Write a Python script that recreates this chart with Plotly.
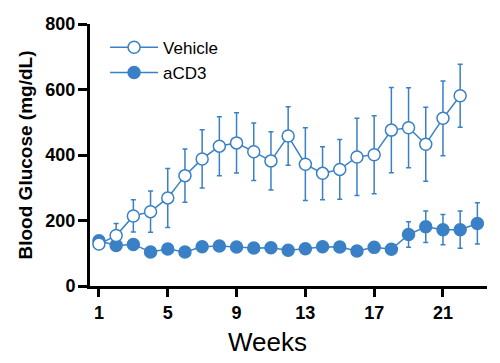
import plotly.graph_objects as go

weeks_vehicle = list(range(1, 23))
vehicle_mean = [128, 154, 214, 227, 269, 337, 388, 427, 437, 410, 382, 458, 372, 344, 356, 394, 401, 476, 483, 433, 512, 581]
vehicle_sem = [8, 37, 49, 63, 90, 81, 89, 90, 92, 88, 89, 89, 111, 81, 91, 118, 119, 130, 122, 113, 114, 96]

weeks_acd3 = list(range(1, 24))
acd3_mean = [138, 124, 127, 104, 113, 104, 120, 122, 119, 116, 117, 109, 114, 120, 119, 107, 118, 112, 157, 181, 172, 172, 191]
acd3_sem = [6, 6, 6, 6, 6, 6, 6, 6, 6, 6, 6, 6, 6, 6, 6, 6, 6, 6, 39, 48, 46, 57, 63]

x_ticks = [1, 5, 9, 13, 17, 21]
y_ticks = [0, 200, 400, 600, 800]

BLUE = "#3a80c6"
FONT = "Liberation Sans, Arial, sans-serif"

fig = go.Figure()
fig.add_trace(go.Scatter(
    x=weeks_acd3, y=acd3_mean, name="aCD3", mode="lines+markers",
    line=dict(color=BLUE, width=1.5),
    marker=dict(symbol="circle", size=12, color=BLUE, line=dict(color=BLUE, width=1.5)),
    error_y=dict(type="data", array=acd3_sem, color=BLUE, thickness=1.5, width=2.5),
    legendrank=2, cliponaxis=False,
))
fig.add_trace(go.Scatter(
    x=weeks_vehicle, y=vehicle_mean, name="Vehicle", mode="lines+markers",
    line=dict(color=BLUE, width=1.5),
    marker=dict(symbol="circle", size=12, color="white", line=dict(color=BLUE, width=1.5)),
    error_y=dict(type="data", array=vehicle_sem, color=BLUE, thickness=1.5, width=2.5),
    legendrank=1, cliponaxis=False,
))

fig.update_layout(
    width=492, height=355,
    margin=dict(l=82, r=13, t=16, b=77),
    paper_bgcolor="white", plot_bgcolor="white",
    font=dict(family=FONT, color="black"),
    showlegend=True,
    legend=dict(x=0.038, y=0.978, xanchor="left", yanchor="top",
                itemwidth=48,
                font=dict(size=17, family=FONT, color="black"),
                bgcolor="rgba(0,0,0,0)", tracegroupgap=0),
    xaxis=dict(
        range=[0.48, 23.56], tickvals=x_ticks, ticktext=[str(v) for v in x_ticks],
        showline=True, linecolor="black", linewidth=3,
        ticks="outside", ticklen=8, tickwidth=2.5, tickcolor="black",
        showgrid=False, zeroline=False, automargin=False,
        tickfont=dict(size=18, family=FONT, color="black", weight="bold"),
    ),
    yaxis=dict(
        range=[0, 800], tickvals=y_ticks, ticktext=[str(v) for v in y_ticks],
        showline=True, linecolor="black", linewidth=3,
        ticks="outside", ticklen=9, tickwidth=2.5, tickcolor="black",
        ticklabelstandoff=-1,
        showgrid=False, zeroline=False, automargin=False,
        tickfont=dict(size=18, family=FONT, color="black", weight="bold"),
        title=dict(text="Blood Glucose (mg/dL)", font=dict(size=19, family=FONT, color="black", weight="bold"), standoff=8),
    ),
    annotations=[dict(
        text="Weeks", xref="paper", yref="paper", x=0.447, y=-0.215,
        xanchor="center", yanchor="middle", showarrow=False,
        font=dict(size=26, family=FONT, color="black"),
    )],
)

fig.write_html("out.html")
